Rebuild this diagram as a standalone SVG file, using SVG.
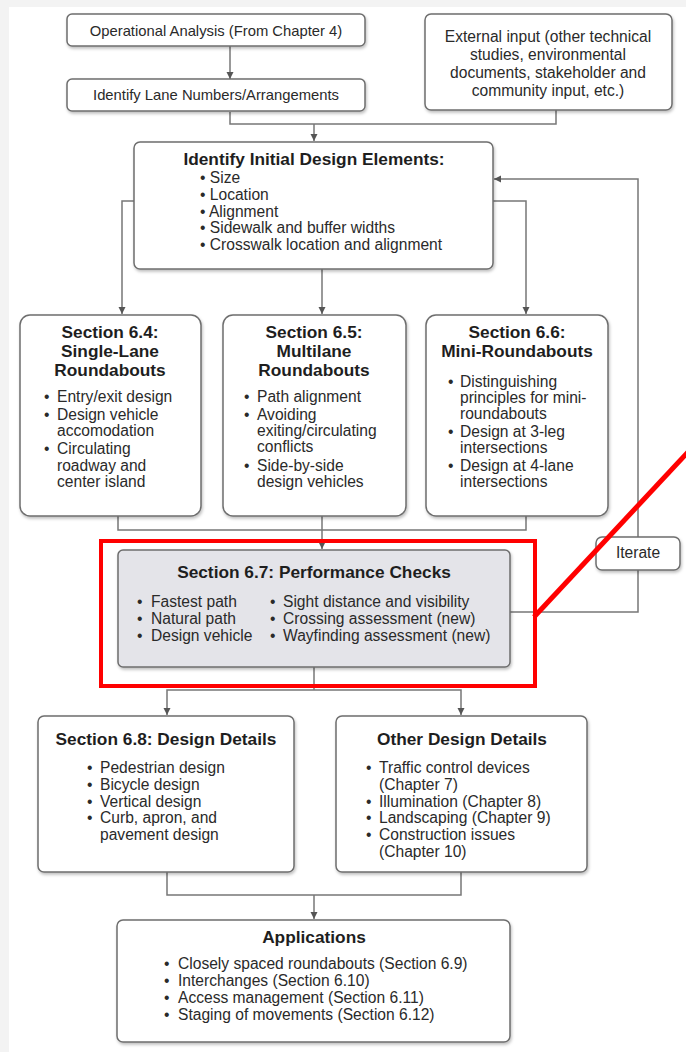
<svg xmlns="http://www.w3.org/2000/svg" width="686" height="1052" viewBox="0 0 686 1052">
<style>
.box{fill:#fff;stroke:#6e6e6e;stroke-width:1.5;filter:url(#sh)}
.gray{fill:#e4e4e9}
.t{font-family:"Liberation Sans",Arial,sans-serif;font-size:15.6px;fill:#2a2a2a}
.s{font-size:14.8px}
.b{font-family:"Liberation Sans",Arial,sans-serif;font-size:17.3px;font-weight:bold;fill:#1e1e1e}
.c{text-anchor:middle}
.ln{fill:none;stroke:#777;stroke-width:1.5}
.arr{marker-end:url(#ah)}
</style>
<defs>
<filter id="sh" x="-10%" y="-10%" width="120%" height="130%">
<feDropShadow dx="1" dy="2" stdDeviation="1.5" flood-color="#000" flood-opacity="0.25"/>
</filter>
<marker id="ah" markerWidth="8" markerHeight="8" refX="7" refY="4" orient="auto" markerUnits="userSpaceOnUse">
<path d="M0,0.5 L7,4 L0,7.5 Z" fill="#555"/>
</marker>
</defs>
<rect width="686" height="1052" fill="#f3f3f3"/>
<rect x="9" y="7" width="677" height="1045" fill="#fff"/>

<g id="connectors">
<line class="ln arr" x1="230" y1="46" x2="230" y2="79"/>
<polyline class="ln" points="230,112 230,124 556,124 556,110"/>
<line class="ln arr" x1="314" y1="124" x2="314" y2="141"/>
<polyline class="ln arr" points="134,201 122,201 122,314"/>
<line class="ln arr" x1="322" y1="269" x2="322" y2="314"/>
<polyline class="ln arr" points="493,201 526,201 526,314"/>
<polyline class="ln" points="118,516 118,530 526,530 526,516"/>
<line class="ln" x1="322" y1="516" x2="322" y2="530"/>
<line class="ln arr" x1="322" y1="530" x2="322" y2="549"/>
<polyline class="ln arr" points="510,612 638,612 638,179 494,179"/>
<line class="ln" x1="314" y1="667" x2="314" y2="690"/>
<polyline class="ln arr" points="314,690 167,690 167,715"/>
<polyline class="ln arr" points="314,690 461,690 461,715"/>
<polyline class="ln" points="167,872 167,895 461,895 461,872"/>
<line class="ln arr" x1="314" y1="895" x2="314" y2="919"/>
</g>

<g id="op-analysis">
<rect class="box" x="67" y="14" width="298" height="32" rx="5"/>
<text class="t s c" x="216" y="36">Operational Analysis (From Chapter 4)</text>
</g>
<g id="lane-numbers">
<rect class="box" x="67" y="79" width="298" height="32" rx="5"/>
<text class="t s c" x="216" y="100">Identify Lane Numbers/Arrangements</text>
</g>
<g id="external-input">
<rect class="box" x="425" y="14" width="247" height="96" rx="6"/>
<text class="t c" x="548" y="42">External input (other technical</text>
<text class="t c" x="548" y="60">studies, environmental</text>
<text class="t c" x="548" y="78">documents, stakeholder and</text>
<text class="t c" x="548" y="96">community input, etc.)</text>
</g>
<g id="initial-design">
<rect class="box" x="134" y="142" width="359" height="127" rx="6"/>
<text class="b c" x="314" y="165">Identify Initial Design Elements:</text>
<text class="t" x="200" y="183">• Size</text>
<text class="t" x="200" y="200">• Location</text>
<text class="t" x="200" y="216.5">• Alignment</text>
<text class="t" x="200" y="233">• Sidewalk and buffer widths</text>
<text class="t" x="200" y="249.5">• Crosswalk location and alignment</text>
</g>
<g id="sec-6-4">
<rect class="box" x="20" y="315" width="181" height="201" rx="10"/>
<text class="b c" x="110" y="338">Section 6.4:</text>
<text class="b c" x="110" y="357">Single-Lane</text>
<text class="b c" x="110" y="376">Roundabouts</text>
<text class="t" x="44" y="402">•</text><text class="t" x="57" y="402">Entry/exit design</text>
<text class="t" x="44" y="420">•</text><text class="t" x="57" y="420">Design vehicle</text>
<text class="t" x="57" y="436">accomodation</text>
<text class="t" x="44" y="454">•</text><text class="t" x="57" y="454">Circulating</text>
<text class="t" x="57" y="471">roadway and</text>
<text class="t" x="57" y="487">center island</text>
</g>
<g id="sec-6-5">
<rect class="box" x="223" y="315" width="183" height="201" rx="10"/>
<text class="b c" x="314" y="338">Section 6.5:</text>
<text class="b c" x="314" y="357">Multilane</text>
<text class="b c" x="314" y="376">Roundabouts</text>
<text class="t" x="244" y="402">•</text><text class="t" x="257" y="402">Path alignment</text>
<text class="t" x="244" y="420">•</text><text class="t" x="257" y="420">Avoiding</text>
<text class="t" x="257" y="436">exiting/circulating</text>
<text class="t" x="257" y="452">conflicts</text>
<text class="t" x="244" y="471">•</text><text class="t" x="257" y="471">Side-by-side</text>
<text class="t" x="257" y="487">design vehicles</text>
</g>
<g id="sec-6-6">
<rect class="box" x="426" y="315" width="182" height="201" rx="10"/>
<text class="b c" x="517" y="338">Section 6.6:</text>
<text class="b c" x="517" y="357">Mini-Roundabouts</text>
<text class="t" x="448" y="387">•</text><text class="t" x="460" y="387">Distinguishing</text>
<text class="t" x="460" y="403">principles for mini-</text>
<text class="t" x="460" y="419">roundabouts</text>
<text class="t" x="448" y="437">•</text><text class="t" x="460" y="437">Design at 3-leg</text>
<text class="t" x="460" y="453">intersections</text>
<text class="t" x="448" y="471">•</text><text class="t" x="460" y="471">Design at 4-lane</text>
<text class="t" x="460" y="487">intersections</text>
</g>
<g id="iterate">
<rect class="box" x="596" y="537" width="84" height="33" rx="6"/>
<text class="t c" x="638" y="558">Iterate</text>
</g>
<g id="sec-6-7">
<rect class="box gray" x="118" y="550" width="392" height="117" rx="5"/>
<text class="b c" x="314" y="578">Section 6.7: Performance Checks</text>
<text class="t" x="137" y="607">•</text><text class="t" x="151" y="607">Fastest path</text>
<text class="t" x="137" y="624">•</text><text class="t" x="151" y="624">Natural path</text>
<text class="t" x="137" y="641">•</text><text class="t" x="151" y="641">Design vehicle</text>
<text class="t" x="270" y="607">•</text><text class="t" x="283" y="607">Sight distance and visibility</text>
<text class="t" x="270" y="624">•</text><text class="t" x="283" y="624">Crossing assessment (new)</text>
<text class="t" x="270" y="641">•</text><text class="t" x="283" y="641">Wayfinding assessment (new)</text>
</g>
<g id="highlight">
<rect x="101" y="541" width="434" height="145" fill="none" stroke="#ff0000" stroke-width="4"/>
<line x1="534" y1="617" x2="688" y2="452" stroke="#ff0000" stroke-width="5"/>
</g>
<g id="sec-6-8">
<rect class="box" x="38" y="716" width="256" height="156" rx="6"/>
<text class="b c" x="166" y="745">Section 6.8: Design Details</text>
<text class="t" x="87" y="773">•</text><text class="t" x="100" y="773">Pedestrian design</text>
<text class="t" x="87" y="790">•</text><text class="t" x="100" y="790">Bicycle design</text>
<text class="t" x="87" y="807">•</text><text class="t" x="100" y="807">Vertical design</text>
<text class="t" x="87" y="823">•</text><text class="t" x="100" y="823">Curb, apron, and</text>
<text class="t" x="100" y="840">pavement design</text>
</g>
<g id="other-details">
<rect class="box" x="336" y="716" width="251" height="156" rx="6"/>
<text class="b c" x="462" y="745">Other Design Details</text>
<text class="t" x="366" y="773">•</text><text class="t" x="379" y="773">Traffic control devices</text>
<text class="t" x="379" y="790">(Chapter 7)</text>
<text class="t" x="366" y="807">•</text><text class="t" x="379" y="807">Illumination (Chapter 8)</text>
<text class="t" x="366" y="823">•</text><text class="t" x="379" y="823">Landscaping (Chapter 9)</text>
<text class="t" x="366" y="840">•</text><text class="t" x="379" y="840">Construction issues</text>
<text class="t" x="379" y="857">(Chapter 10)</text>
</g>
<g id="applications">
<rect class="box" x="117" y="920" width="393" height="122" rx="6"/>
<text class="b c" x="314" y="943">Applications</text>
<text class="t" x="164" y="969">•</text><text class="t" x="178" y="969">Closely spaced roundabouts (Section 6.9)</text>
<text class="t" x="164" y="986">•</text><text class="t" x="178" y="986">Interchanges (Section 6.10)</text>
<text class="t" x="164" y="1003">•</text><text class="t" x="178" y="1003">Access management (Section 6.11)</text>
<text class="t" x="164" y="1020">•</text><text class="t" x="178" y="1020">Staging of movements (Section 6.12)</text>
</g>
</svg>
